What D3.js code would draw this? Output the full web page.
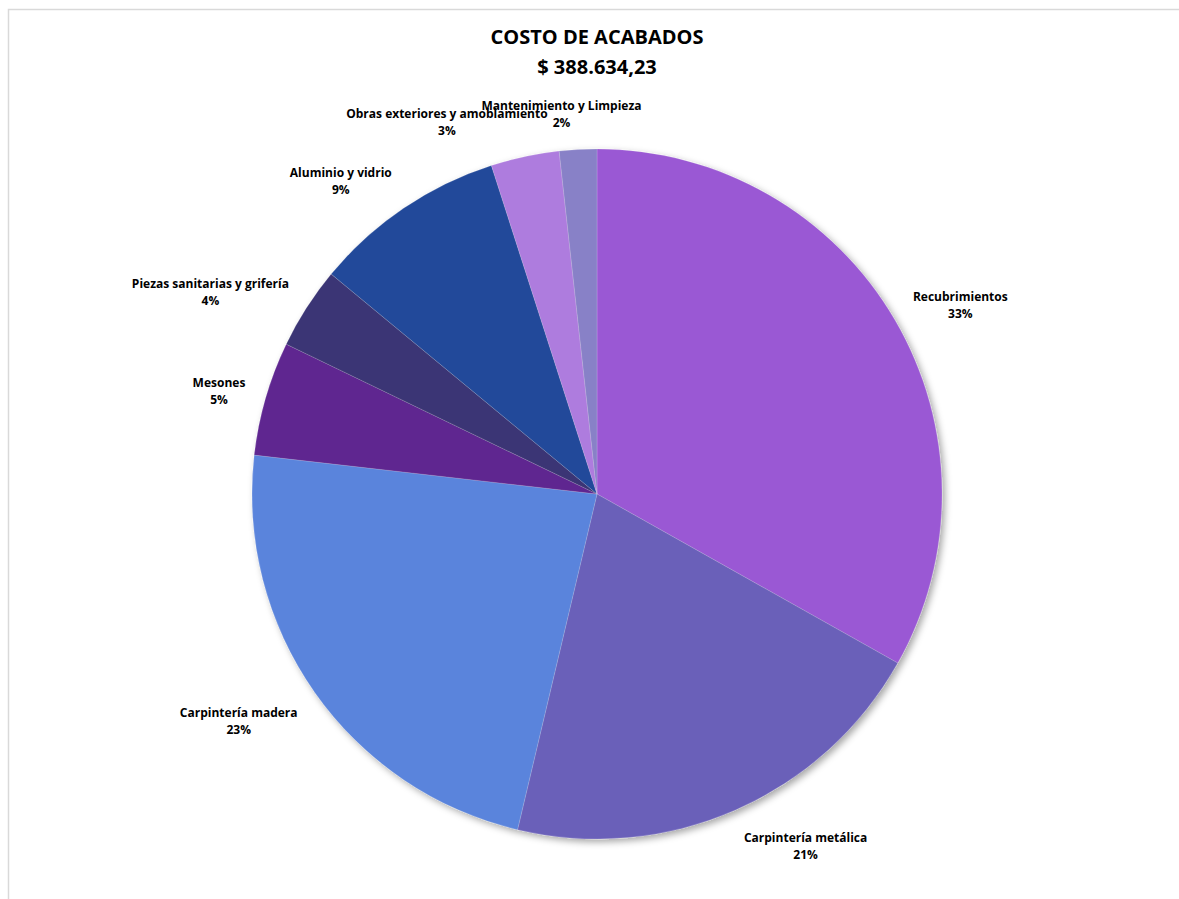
<!DOCTYPE html>
<html>
<head>
<meta charset="utf-8">
<script src="https://cdn.jsdelivr.net/npm/d3@7"></script>
<style>
  html, body { margin: 0; padding: 0; background: #ffffff; }
  svg { display: block; }
  text { font-family: "Open Sans", "Liberation Sans", sans-serif; font-weight: bold; fill: #000; }
</style>
</head>
<body>
<svg id="chart" width="1179" height="899"></svg>
<script>
// Finishing-cost breakdown (share of the total, %)
const categories = [
  "Recubrimientos",
  "Carpintería metálica",
  "Carpintería madera",
  "Mesones",
  "Piezas sanitarias  y grifería",
  "Aluminio y vidrio",
  "Obras exteriores y amoblamiento",
  "Mantenimiento y Limpieza"
];
const shares = [33.15, 20.55, 23.1, 5.35, 3.85, 9.05, 3.2, 1.75];
const sliceColors = ["#9a58d4", "#6a60b9", "#5a84dc", "#5e2590", "#3b3574", "#234a9a", "#ae7cde", "#8881c7"];
const titleLines = ["COSTO DE ACABADOS", "$ 388.634,23"];

const svg = d3.select("#chart");

// chart area frame
svg.append("rect")
  .attr("x", 8.5).attr("y", 9.5)
  .attr("width", 1180).attr("height", 900)
  .attr("fill", "#fff")
  .attr("stroke", "#d9d9d9").attr("stroke-width", 1.5);

// title
const title = svg.append("text")
  .attr("text-anchor", "middle")
  .style("font-size", "20px");
titleLines.forEach((t, i) => {
  title.append("tspan").attr("x", 597).attr("y", 44 + i * 30).text(t);
});

const cx = 597, cy = 494, R = 345;

const defs = svg.append("defs");
const f = defs.append("filter").attr("id", "pieShadow")
  .attr("x", "-10%").attr("y", "-10%").attr("width", "120%").attr("height", "120%");
f.append("feDropShadow")
  .attr("dx", 3).attr("dy", 3).attr("stdDeviation", 3.5)
  .attr("flood-color", "#000").attr("flood-opacity", 0.35);

const data = categories.map((c, i) => ({ name: c, value: shares[i], color: sliceColors[i] }));
const total = d3.sum(shares);

const pie = d3.pie().value(d => d.value).sort(null);
const arcs = pie(data);
const arc = d3.arc().innerRadius(0).outerRadius(R);

const g = svg.append("g").attr("transform", `translate(${cx},${cy})`);

g.append("g").attr("filter", "url(#pieShadow)")
  .selectAll("path")
  .data(arcs)
  .join("path")
  .attr("d", arc)
  .attr("fill", d => d.data.color)
  .attr("stroke", "rgba(255,255,255,0.25)")
  .attr("stroke-width", 0.6);

// outside-end labels: anchor just beyond the rim, box pushed away from the pie
const pct = d3.format(".0%");
const labelR = R + 21;
const lineGap = 17;
const clamp = v => Math.max(-1, Math.min(1, v));

const labels = g.append("g").style("font-size", "12px");
arcs.forEach(a => {
  const mid = (a.startAngle + a.endAngle) / 2;
  const s = Math.sin(mid), c = Math.cos(mid);
  const px = labelR * s, py = -labelR * c;
  const t = labels.append("text").attr("text-anchor", "middle");
  t.append("tspan").attr("x", 0).attr("dy", 0).text(a.data.name);
  t.append("tspan").attr("x", 0).attr("dy", lineGap).text(pct(a.data.value / total));
  const w = t.node().getBBox().width, h = lineGap * 2;
  const bx = px + (w / 2) * clamp(s * 3.5);
  // above the centre the block only rises gradually; below it hangs fully under the anchor
  const by = c > 0 ? py - (h / 2) * 0.82 * c * c : py + (h / 2) * clamp(-c * 3.5);
  t.attr("transform", `translate(${bx},${by - lineGap / 2 + 4})`);
});
</script>
</body>
</html>
